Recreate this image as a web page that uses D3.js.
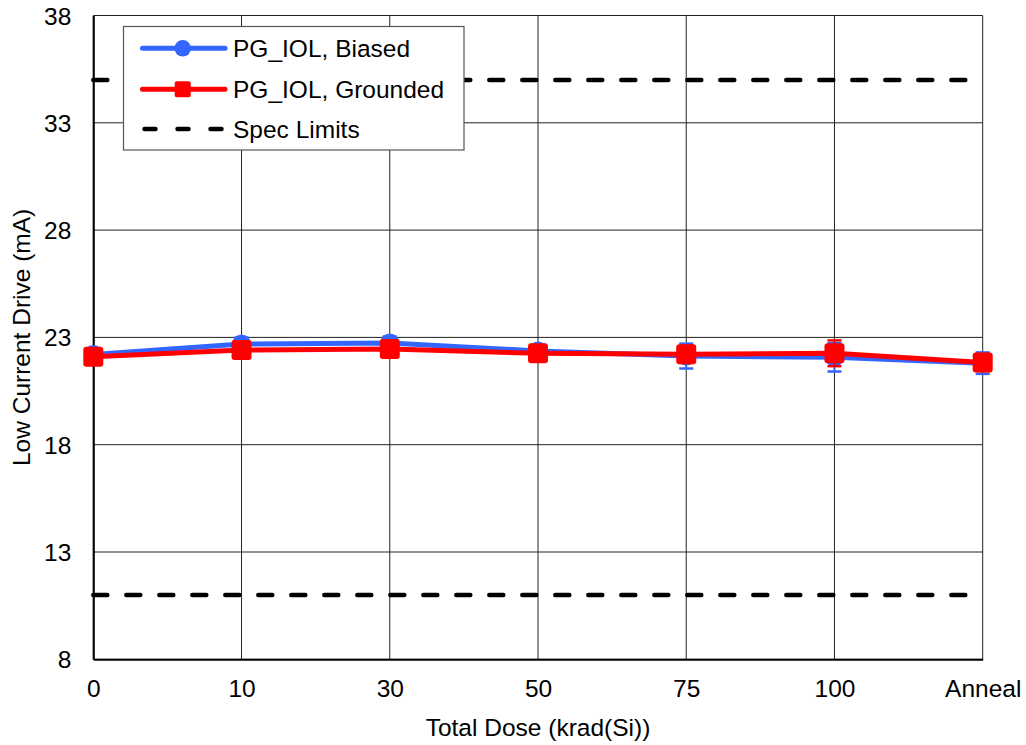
<!DOCTYPE html>
<html><head><meta charset="utf-8">
<script src="https://cdn.jsdelivr.net/npm/d3@7"></script>
<style>
html,body{margin:0;padding:0;background:#fff;}
svg text{font-family:"Liberation Sans",Arial,sans-serif;fill:#000;}
</style></head>
<body><svg id="chart" width="1026" height="745"></svg>
<script>
const categories = ["0","10","30","50","75","100","Anneal"];
const biased = [22.2, 22.69, 22.74, 22.37, 22.13, 22.07, 21.8];
const grounded = [22.1, 22.41, 22.46, 22.26, 22.21, 22.26, 21.83];
const biasedErr = [0.3, 0.3, 0.3, 0.3, 0.58, 0.66, 0.5];
const groundedErr = [0.25, 0.25, 0.25, 0.25, 0.4, 0.6, 0.4];
const specLimits = [35, 11];
const yTicks = [8, 13, 18, 23, 28, 33, 38];
const seriesNames = ["PG_IOL, Biased", "PG_IOL, Grounded", "Spec Limits"];

const svg = d3.select("#chart");
const m = {left: 93.3, right: 982.7, top: 15.5, bottom: 659.3};
const x = d3.scalePoint().domain(categories).range([m.left, m.right]);
const y = d3.scaleLinear().domain([8, 38]).range([m.bottom, m.top]);
const FS = "24.5px";

// grid
const grid = svg.append("g");
grid.selectAll("line.h").data(yTicks).enter().append("line")
  .attr("x1", m.left).attr("x2", m.right)
  .attr("y1", d => y(d)).attr("y2", d => y(d))
  .attr("stroke", "#222").attr("stroke-width", 1);
grid.selectAll("line.v").data(categories).enter().append("line")
  .attr("x1", d => x(d)).attr("x2", d => x(d))
  .attr("y1", m.top).attr("y2", m.bottom)
  .attr("stroke", "#222").attr("stroke-width", 1);

// axes
const yAxis = d3.axisLeft(y).tickValues(yTicks).tickSize(0).tickPadding(22);
const gy = svg.append("g").attr("transform", `translate(${m.left},0)`).call(yAxis);
gy.select(".domain").attr("stroke", "#000").attr("stroke-width", 2);
gy.selectAll("text").style("font-size", FS).attr("dy", "0.35em");

const xAxis = d3.axisBottom(x).tickSize(0).tickPadding(20);
const gx = svg.append("g").attr("transform", `translate(0,${m.bottom})`).call(xAxis);
gx.select(".domain").attr("stroke", "#000").attr("stroke-width", 2);
gx.selectAll("text").style("font-size", FS);

// axis titles
svg.append("text").attr("x", (m.left + m.right) / 2).attr("y", 736)
  .attr("text-anchor", "middle").style("font-size", FS).text("Total Dose (krad(Si))");
svg.append("text").attr("transform", `translate(30,${(m.top + m.bottom) / 2}) rotate(-90)`)
  .attr("text-anchor", "middle").style("font-size", FS).text("Low Current Drive (mA)");

// spec limits
svg.selectAll("line.spec").data(specLimits).enter().append("line")
  .attr("x1", m.left).attr("x2", m.right)
  .attr("y1", d => y(d)).attr("y2", d => y(d))
  .attr("stroke", "#000").attr("stroke-width", 4.5)
  .attr("stroke-dasharray", "14,19").attr("stroke-linecap", "round");

const blue = "#3366FF", red = "#FF0000";
function drawSeries(vals, errs, color, shape) {
  const g = svg.append("g");
  const pts = categories.map((c, i) => ({c, v: vals[i], e: errs[i]}));
  // error bars
  pts.forEach(p => {
    g.append("line").attr("x1", x(p.c)).attr("x2", x(p.c))
      .attr("y1", y(p.v - p.e)).attr("y2", y(p.v + p.e))
      .attr("stroke", color).attr("stroke-width", 2);
    [p.v - p.e, p.v + p.e].forEach(v => {
      g.append("line").attr("x1", x(p.c) - 7).attr("x2", x(p.c) + 7)
        .attr("y1", y(v)).attr("y2", y(v))
        .attr("stroke", color).attr("stroke-width", 2.5);
    });
  });
  g.append("path").datum(pts)
    .attr("d", d3.line().x(d => x(d.c)).y(d => y(d.v)))
    .attr("fill", "none").attr("stroke", color).attr("stroke-width", 5)
    .attr("stroke-linejoin", "round");
  if (shape === "circle") {
    g.selectAll("circle").data(pts).enter().append("circle")
      .attr("cx", d => x(d.c)).attr("cy", d => y(d.v)).attr("r", 9.5)
      .attr("fill", color);
  } else {
    g.selectAll("rect").data(pts).enter().append("rect")
      .attr("x", d => x(d.c) - 10).attr("y", d => y(d.v) - 10)
      .attr("width", 20).attr("height", 20).attr("rx", 3)
      .attr("fill", color);
  }
}
drawSeries(biased, biasedErr, blue, "circle");
drawSeries(grounded, groundedErr, red, "square");

// legend
const lg = svg.append("g");
lg.append("rect").attr("x", 123.5).attr("y", 26.5).attr("width", 340.5).attr("height", 123.5)
  .attr("fill", "#fff").attr("stroke", "#555").attr("stroke-width", 1.2);
const rows = [48.3, 89.3, 129];
const lx1 = 142.5, lx2 = 225, lmx = 182.7;
lg.append("line").attr("x1", lx1).attr("x2", lx2).attr("y1", rows[0]).attr("y2", rows[0])
  .attr("stroke", blue).attr("stroke-width", 5).attr("stroke-linecap", "round");
lg.append("circle").attr("cx", lmx).attr("cy", rows[0]).attr("r", 8.3).attr("fill", blue);
lg.append("line").attr("x1", lx1).attr("x2", lx2).attr("y1", rows[1]).attr("y2", rows[1])
  .attr("stroke", red).attr("stroke-width", 5).attr("stroke-linecap", "round");
lg.append("rect").attr("x", lmx - 8).attr("y", rows[1] - 8).attr("width", 16).attr("height", 16)
  .attr("rx", 2).attr("fill", red);
lg.append("line").attr("x1", lx1 + 2).attr("x2", lx2 - 2).attr("y1", rows[2]).attr("y2", rows[2])
  .attr("stroke", "#000").attr("stroke-width", 4.5).attr("stroke-linecap", "round")
  .attr("stroke-dasharray", "11,22");
seriesNames.forEach((n, i) => {
  lg.append("text").attr("x", 233).attr("y", rows[i]).attr("dy", "0.35em")
    .style("font-size", FS).text(n);
});
</script></body></html>
